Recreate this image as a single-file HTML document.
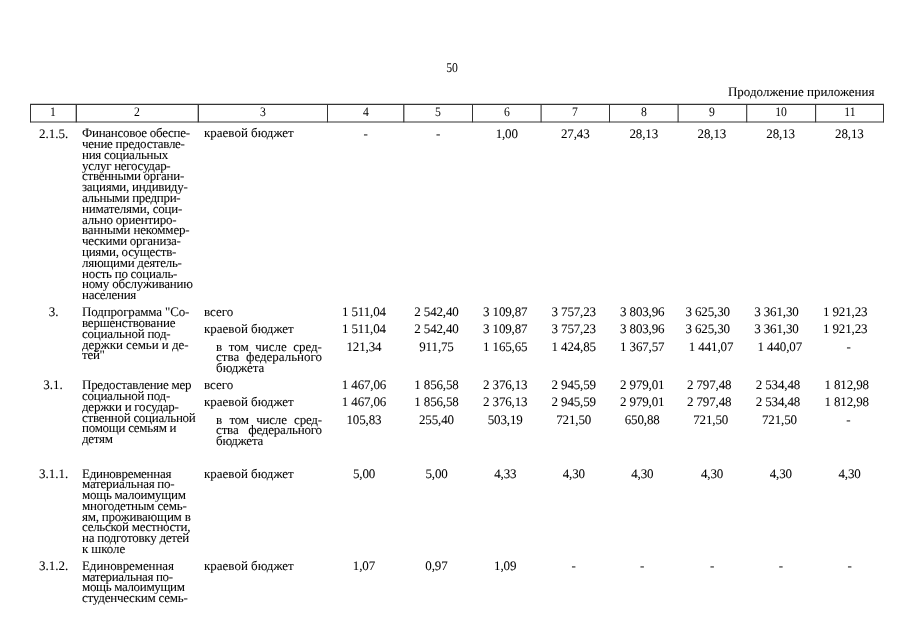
<!DOCTYPE html>
<html lang="ru"><head><meta charset="utf-8"><title>50</title>
<style>
html,body{margin:0;padding:0;background:#fff;}
body{width:905px;height:640px;position:relative;overflow:hidden;font-family:"Liberation Serif","DejaVu Serif",serif;font-size:13px;color:#000;}
.t{text-rendering:geometricPrecision;position:absolute;white-space:nowrap;line-height:15px;height:15px;-webkit-text-stroke:0.05px #000;}
.c2{letter-spacing:-0.28px;}
.c3{letter-spacing:-0.03px;}
.n{letter-spacing:-0.13px;}
.h{-webkit-text-stroke:0;}
.box{position:absolute;left:0;top:0;}
</style></head><body>
<svg class="box" width="905" height="640" viewBox="0 0 905 640"><g stroke="#333" stroke-width="1" fill="none"><line x1="30.0" y1="104.4" x2="884.0" y2="104.4" stroke-width="1.3"/><line x1="30.0" y1="122.0" x2="884.0" y2="122.0" stroke-width="1.2"/><line x1="30.5" y1="104.0" x2="30.5" y2="122.3" stroke-width="1.0"/><line x1="76.3" y1="104.0" x2="76.3" y2="122.3" stroke-width="1.3"/><line x1="198.3" y1="104.0" x2="198.3" y2="122.3" stroke-width="1.3"/><line x1="327.5" y1="104.0" x2="327.5" y2="122.3" stroke-width="1.0"/><line x1="403.8" y1="104.0" x2="403.8" y2="122.3" stroke-width="1.2"/><line x1="472.5" y1="104.0" x2="472.5" y2="122.3" stroke-width="1.0"/><line x1="541.1" y1="104.0" x2="541.1" y2="122.3" stroke-width="1.1"/><line x1="609.5" y1="104.0" x2="609.5" y2="122.3" stroke-width="1.0"/><line x1="678.1" y1="104.0" x2="678.1" y2="122.3" stroke-width="1.1"/><line x1="746.7" y1="104.0" x2="746.7" y2="122.3" stroke-width="1.1"/><line x1="815.6" y1="104.0" x2="815.6" y2="122.3" stroke-width="1.1"/><line x1="883.5" y1="104.0" x2="883.5" y2="122.3" stroke-width="1.0"/></g></svg>
<div class="t h" style="top:60.00px;left:352.20px;width:200px;text-align:center;transform:scale(0.9,1.03);transform-origin:50% 12px;">50</div>
<div class="t" style="top:84.00px;left:674.50px;width:200px;text-align:right;">Продолжение приложения</div>
<div class="t h" style="top:104.40px;left:-46.75px;width:200px;text-align:center;transform:scaleX(0.9);">1</div>
<div class="t h" style="top:104.40px;left:37.00px;width:200px;text-align:center;transform:scaleX(0.9);">2</div>
<div class="t h" style="top:104.40px;left:162.75px;width:200px;text-align:center;transform:scaleX(0.9);">3</div>
<div class="t h" style="top:104.40px;left:265.50px;width:200px;text-align:center;transform:scaleX(0.9);">4</div>
<div class="t h" style="top:104.40px;left:338.00px;width:200px;text-align:center;transform:scaleX(0.9);">5</div>
<div class="t h" style="top:104.40px;left:406.75px;width:200px;text-align:center;transform:scaleX(0.9);">6</div>
<div class="t h" style="top:104.40px;left:475.25px;width:200px;text-align:center;transform:scaleX(0.9);">7</div>
<div class="t h" style="top:104.40px;left:543.75px;width:200px;text-align:center;transform:scaleX(0.9);">8</div>
<div class="t h" style="top:104.40px;left:612.25px;width:200px;text-align:center;transform:scaleX(0.9);">9</div>
<div class="t h" style="top:104.40px;left:681.00px;width:200px;text-align:center;transform:scaleX(0.9);">10</div>
<div class="t h" style="top:104.40px;left:749.75px;width:200px;text-align:center;transform:scaleX(0.9);">11</div>
<div class="t" style="top:126.00px;left:39.00px;">2.1.5.</div>
<div class="t c2" style="top:125.00px;left:82.00px;">Финансовое обеспе-</div>
<div class="t c2" style="top:136.00px;left:82.00px;">чение предоставле-</div>
<div class="t c2" style="top:146.80px;left:82.00px;">ния социальных</div>
<div class="t c2" style="top:157.60px;left:82.00px;">услуг негосудар-</div>
<div class="t c2" style="top:168.40px;left:82.00px;">ственными органи-</div>
<div class="t c2" style="top:179.20px;left:82.00px;">зациями, индивиду-</div>
<div class="t c2" style="top:190.00px;left:82.00px;">альными предпри-</div>
<div class="t c2" style="top:200.80px;left:82.00px;letter-spacing:-0.2px;">нимателями, соци-</div>
<div class="t c2" style="top:211.60px;left:82.00px;letter-spacing:-0.2px;">ально ориентиро-</div>
<div class="t c2" style="top:222.40px;left:82.00px;letter-spacing:-0.18px;">ванными некоммер-</div>
<div class="t c2" style="top:233.20px;left:82.00px;">ческими организа-</div>
<div class="t c2" style="top:244.00px;left:82.00px;">циями, осуществ-</div>
<div class="t c2" style="top:254.80px;left:82.00px;">ляющими деятель-</div>
<div class="t c2" style="top:265.60px;left:82.00px;">ность по социаль-</div>
<div class="t c2" style="top:276.40px;left:82.00px;letter-spacing:-0.2px;">ному обслуживанию</div>
<div class="t c2" style="top:287.20px;left:82.00px;">населения</div>
<div class="t" style="top:125.00px;left:204.00px;">краевой бюджет</div>
<div class="t n" style="top:126.00px;left:265.50px;width:200px;text-align:center;">-</div>
<div class="t n" style="top:126.00px;left:338.00px;width:200px;text-align:center;">-</div>
<div class="t n" style="top:126.00px;left:406.75px;width:200px;text-align:center;">1,00</div>
<div class="t n" style="top:126.00px;left:475.25px;width:200px;text-align:center;">27,43</div>
<div class="t n" style="top:126.00px;left:543.75px;width:200px;text-align:center;">28,13</div>
<div class="t n" style="top:126.00px;left:611.85px;width:200px;text-align:center;">28,13</div>
<div class="t n" style="top:126.00px;left:680.60px;width:200px;text-align:center;">28,13</div>
<div class="t n" style="top:126.00px;left:749.35px;width:200px;text-align:center;">28,13</div>
<div class="t" style="top:304.00px;left:-46.50px;width:200px;text-align:center;">3.</div>
<div class="t c2" style="top:304.00px;left:82.00px;letter-spacing:-0.16px;">Подпрограмма "Со-</div>
<div class="t c2" style="top:315.00px;left:82.00px;letter-spacing:-0.22px;">вершенствование</div>
<div class="t c2" style="top:325.80px;left:82.00px;letter-spacing:-0.25px;">социальной под-</div>
<div class="t c2" style="top:336.60px;left:82.00px;letter-spacing:-0.05px;">держки семьи и де-</div>
<div class="t c2" style="top:347.40px;left:82.00px;">тей"</div>
<div class="t" style="top:304.00px;left:204.00px;">всего</div>
<div class="t n" style="top:304.00px;left:264.00px;width:200px;text-align:center;">1 511,04</div>
<div class="t n" style="top:304.00px;left:336.50px;width:200px;text-align:center;">2 542,40</div>
<div class="t n" style="top:304.00px;left:405.25px;width:200px;text-align:center;">3 109,87</div>
<div class="t n" style="top:304.00px;left:473.75px;width:200px;text-align:center;">3 757,23</div>
<div class="t n" style="top:304.00px;left:542.25px;width:200px;text-align:center;">3 803,96</div>
<div class="t n" style="top:304.00px;left:607.65px;width:200px;text-align:center;">3 625,30</div>
<div class="t n" style="top:304.00px;left:676.40px;width:200px;text-align:center;">3 361,30</div>
<div class="t n" style="top:304.00px;left:745.15px;width:200px;text-align:center;">1 921,23</div>
<div class="t" style="top:321.00px;left:204.00px;">краевой бюджет</div>
<div class="t n" style="top:321.00px;left:264.00px;width:200px;text-align:center;">1 511,04</div>
<div class="t n" style="top:321.00px;left:336.50px;width:200px;text-align:center;">2 542,40</div>
<div class="t n" style="top:321.00px;left:405.25px;width:200px;text-align:center;">3 109,87</div>
<div class="t n" style="top:321.00px;left:473.75px;width:200px;text-align:center;">3 757,23</div>
<div class="t n" style="top:321.00px;left:542.25px;width:200px;text-align:center;">3 803,96</div>
<div class="t n" style="top:321.00px;left:607.65px;width:200px;text-align:center;">3 625,30</div>
<div class="t n" style="top:321.00px;left:676.40px;width:200px;text-align:center;">3 361,30</div>
<div class="t n" style="top:321.00px;left:745.15px;width:200px;text-align:center;">1 921,23</div>
<div class="t c3" style="top:339.00px;left:216.10px;letter-spacing:-0.03px;width:105.8px;text-align:justify;text-align-last:justify;">в том числе сред-</div>
<div class="t c3" style="top:349.20px;left:216.10px;letter-spacing:-0.03px;width:105.8px;text-align:justify;text-align-last:justify;">ства федерального</div>
<div class="t c3" style="top:360.00px;left:216.10px;letter-spacing:-0.03px;">бюджета</div>
<div class="t n" style="top:339.00px;left:264.00px;width:200px;text-align:center;">121,34</div>
<div class="t n" style="top:339.00px;left:336.50px;width:200px;text-align:center;">911,75</div>
<div class="t n" style="top:339.00px;left:405.25px;width:200px;text-align:center;">1 165,65</div>
<div class="t n" style="top:339.00px;left:473.75px;width:200px;text-align:center;">1 424,85</div>
<div class="t n" style="top:339.00px;left:542.25px;width:200px;text-align:center;">1 367,57</div>
<div class="t n" style="top:339.00px;left:611.05px;width:200px;text-align:center;">1 441,07</div>
<div class="t n" style="top:339.00px;left:679.80px;width:200px;text-align:center;">1 440,07</div>
<div class="t n" style="top:339.00px;left:748.55px;width:200px;text-align:center;">-</div>
<div class="t" style="top:377.00px;left:-46.90px;width:200px;text-align:center;">3.1.</div>
<div class="t c2" style="top:377.00px;left:82.00px;letter-spacing:-0.26px;">Предоставление мер</div>
<div class="t c2" style="top:388.00px;left:82.00px;">социальной под-</div>
<div class="t c2" style="top:398.80px;left:82.00px;letter-spacing:-0.25px;">держки и государ-</div>
<div class="t c2" style="top:409.60px;left:82.00px;">ственной социальной</div>
<div class="t c2" style="top:420.40px;left:82.00px;">помощи семьям и</div>
<div class="t c2" style="top:431.20px;left:82.00px;">детям</div>
<div class="t" style="top:377.00px;left:204.00px;">всего</div>
<div class="t n" style="top:377.00px;left:264.00px;width:200px;text-align:center;">1 467,06</div>
<div class="t n" style="top:377.00px;left:336.50px;width:200px;text-align:center;">1 856,58</div>
<div class="t n" style="top:377.00px;left:405.25px;width:200px;text-align:center;">2 376,13</div>
<div class="t n" style="top:377.00px;left:473.75px;width:200px;text-align:center;">2 945,59</div>
<div class="t n" style="top:377.00px;left:542.25px;width:200px;text-align:center;">2 979,01</div>
<div class="t n" style="top:377.00px;left:609.15px;width:200px;text-align:center;">2 797,48</div>
<div class="t n" style="top:377.00px;left:677.90px;width:200px;text-align:center;">2 534,48</div>
<div class="t n" style="top:377.00px;left:746.65px;width:200px;text-align:center;">1 812,98</div>
<div class="t" style="top:394.00px;left:204.00px;">краевой бюджет</div>
<div class="t n" style="top:394.00px;left:264.00px;width:200px;text-align:center;">1 467,06</div>
<div class="t n" style="top:394.00px;left:336.50px;width:200px;text-align:center;">1 856,58</div>
<div class="t n" style="top:394.00px;left:405.25px;width:200px;text-align:center;">2 376,13</div>
<div class="t n" style="top:394.00px;left:473.75px;width:200px;text-align:center;">2 945,59</div>
<div class="t n" style="top:394.00px;left:542.25px;width:200px;text-align:center;">2 979,01</div>
<div class="t n" style="top:394.00px;left:609.15px;width:200px;text-align:center;">2 797,48</div>
<div class="t n" style="top:394.00px;left:677.90px;width:200px;text-align:center;">2 534,48</div>
<div class="t n" style="top:394.00px;left:746.65px;width:200px;text-align:center;">1 812,98</div>
<div class="t c3" style="top:412.00px;left:216.10px;letter-spacing:-0.21px;width:105.8px;text-align:justify;text-align-last:justify;">в том числе сред-</div>
<div class="t c3" style="top:422.20px;left:216.10px;letter-spacing:-0.21px;width:105.8px;text-align:justify;text-align-last:justify;">ства федерального</div>
<div class="t c3" style="top:433.00px;left:216.10px;letter-spacing:-0.21px;">бюджета</div>
<div class="t n" style="top:412.00px;left:264.00px;width:200px;text-align:center;">105,83</div>
<div class="t n" style="top:412.00px;left:336.50px;width:200px;text-align:center;">255,40</div>
<div class="t n" style="top:412.00px;left:405.25px;width:200px;text-align:center;">503,19</div>
<div class="t n" style="top:412.00px;left:473.75px;width:200px;text-align:center;">721,50</div>
<div class="t n" style="top:412.00px;left:542.25px;width:200px;text-align:center;">650,88</div>
<div class="t n" style="top:412.00px;left:610.75px;width:200px;text-align:center;">721,50</div>
<div class="t n" style="top:412.00px;left:679.50px;width:200px;text-align:center;">721,50</div>
<div class="t n" style="top:412.00px;left:748.25px;width:200px;text-align:center;">-</div>
<div class="t" style="top:466.00px;left:39.00px;">3.1.1.</div>
<div class="t c2" style="top:466.00px;left:82.00px;">Единовременная</div>
<div class="t c2" style="top:476.20px;left:82.00px;letter-spacing:-0.26px;">материальная по-</div>
<div class="t c2" style="top:487.00px;left:82.00px;">мощь малоимущим</div>
<div class="t c2" style="top:497.80px;left:82.00px;letter-spacing:-0.22px;">многодетным семь-</div>
<div class="t c2" style="top:508.60px;left:82.00px;letter-spacing:-0.22px;">ям, проживающим в</div>
<div class="t c2" style="top:519.40px;left:82.00px;">сельской местности,</div>
<div class="t c2" style="top:530.20px;left:82.00px;letter-spacing:-0.26px;">на подготовку детей</div>
<div class="t c2" style="top:541.00px;left:82.00px;letter-spacing:-0.1px;">к школе</div>
<div class="t" style="top:466.00px;left:204.00px;">краевой бюджет</div>
<div class="t n" style="top:466.00px;left:264.10px;width:200px;text-align:center;">5,00</div>
<div class="t n" style="top:466.00px;left:336.60px;width:200px;text-align:center;">5,00</div>
<div class="t n" style="top:466.00px;left:405.35px;width:200px;text-align:center;">4,33</div>
<div class="t n" style="top:466.00px;left:473.85px;width:200px;text-align:center;">4,30</div>
<div class="t n" style="top:466.00px;left:542.35px;width:200px;text-align:center;">4,30</div>
<div class="t n" style="top:466.00px;left:612.05px;width:200px;text-align:center;">4,30</div>
<div class="t n" style="top:466.00px;left:680.80px;width:200px;text-align:center;">4,30</div>
<div class="t n" style="top:466.00px;left:749.55px;width:200px;text-align:center;">4,30</div>
<div class="t" style="top:558.00px;left:39.00px;">3.1.2.</div>
<div class="t c2" style="top:558.00px;left:82.00px;letter-spacing:-0.08px;">Единовременная</div>
<div class="t c2" style="top:568.60px;left:82.00px;letter-spacing:-0.37px;">материальная по-</div>
<div class="t c2" style="top:579.40px;left:82.00px;letter-spacing:-0.35px;">мощь малоимущим</div>
<div class="t c2" style="top:590.20px;left:82.00px;letter-spacing:-0.23px;">студенческим семь-</div>
<div class="t" style="top:558.00px;left:204.00px;">краевой бюджет</div>
<div class="t n" style="top:558.00px;left:263.90px;width:200px;text-align:center;">1,07</div>
<div class="t n" style="top:558.00px;left:336.40px;width:200px;text-align:center;">0,97</div>
<div class="t n" style="top:558.00px;left:405.15px;width:200px;text-align:center;">1,09</div>
<div class="t n" style="top:558.00px;left:473.65px;width:200px;text-align:center;">-</div>
<div class="t n" style="top:558.00px;left:542.15px;width:200px;text-align:center;">-</div>
<div class="t n" style="top:558.00px;left:612.05px;width:200px;text-align:center;">-</div>
<div class="t n" style="top:558.00px;left:680.80px;width:200px;text-align:center;">-</div>
<div class="t n" style="top:558.00px;left:749.55px;width:200px;text-align:center;">-</div>
</body></html>
